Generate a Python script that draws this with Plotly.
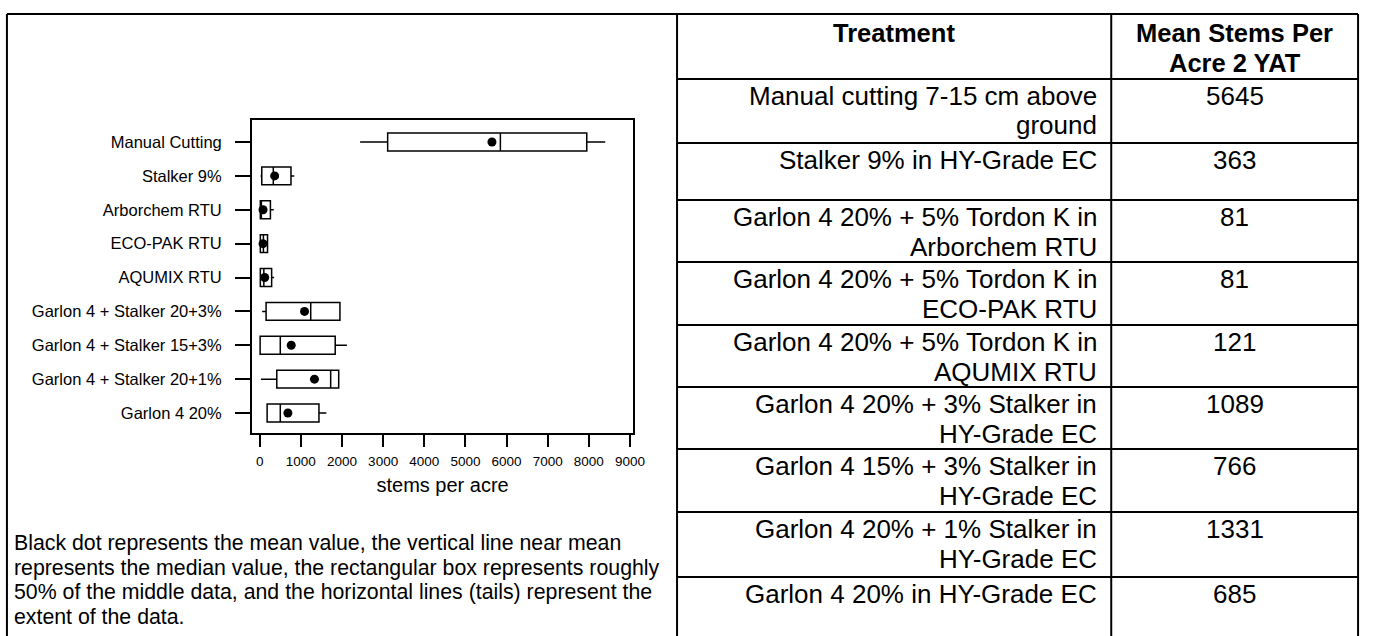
import plotly.graph_objects as go

# ---------------- data ----------------
categories = ["Manual Cutting", "Stalker 9%", "Arborchem RTU", "ECO-PAK RTU", "AQUMIX RTU",
              "Garlon 4 + Stalker 20+3%", "Garlon 4 + Stalker 15+3%",
              "Garlon 4 + Stalker 20+1%", "Garlon 4 20%"]
mins    = [2440,  20,   0,   0,   0,   60,    0,   30,  180]
q1s     = [3110,  50,  15,  15,  15,  155,   10,  415,  180]
medians = [5850, 330,  40,  90, 100, 1240,  500, 1725,  500]
q3s     = [7950, 760, 260, 190, 290, 1950, 1835, 1920, 1440]
maxs    = [8400, 840, 340, 200, 350, 1950, 2120, 1920, 1620]
means   = [5645, 363,  81,  81, 121, 1089,  766, 1331,  685]

x_ticks = [0, 1000, 2000, 3000, 4000, 5000, 6000, 7000, 8000, 9000]
x_title = "stems per acre"

table_header = ["Treatment", "Mean Stems Per<br>Acre 2 YAT"]
treatments = [
    ["Manual cutting 7-15 cm above", "ground"],
    ["Stalker 9% in HY-Grade EC"],
    ["Garlon 4 20% + 5% Tordon K in", "Arborchem RTU"],
    ["Garlon 4 20% + 5% Tordon K in", "ECO-PAK RTU"],
    ["Garlon 4 20% + 5% Tordon K in", "AQUMIX RTU"],
    ["Garlon 4 20% + 3% Stalker in", "HY-Grade EC"],
    ["Garlon 4 15% + 3% Stalker in", "HY-Grade EC"],
    ["Garlon 4 20% + 1% Stalker in", "HY-Grade EC"],
    ["Garlon 4 20% in HY-Grade EC"],
]
table_means = ["5645", "363", "81", "81", "121", "1089", "766", "1331", "685"]

note_lines = [
    "Black dot represents the mean value, the vertical line near mean",
    "represents the median value, the rectangular box represents roughly",
    "50% of the middle data, and the horizontal lines (tails) represent the",
    "extent of the data.",
]

# ---------------- layout helpers ----------------
W, H = 1377, 636
FONT = "Liberation Sans, Arial, sans-serif"


def px(x):
    return x / W


def py(y):
    return 1 - y / H


fig = go.Figure()

fig.add_trace(go.Box(
    y=categories, q1=q1s, median=medians, q3=q3s,
    lowerfence=mins, upperfence=maxs,
    orientation="h", boxpoints=False, whiskerwidth=0, width=0.53,
    fillcolor="white", line=dict(color="black", width=1.5),
    hoverinfo="skip", showlegend=False,
))
fig.add_trace(go.Scatter(
    x=means, y=categories, mode="markers",
    marker=dict(color="black", size=9),
    hoverinfo="skip", showlegend=False,
))

# plot area in pixels
pl, pr, pt, pb = 254, 639, 120, 433
x0_px, k = 262, 41.5 / 1000.0
xr = [(pl - x0_px) / k, (pr - x0_px) / k]

fig.update_layout(
    width=W, height=H, margin=dict(l=0, r=0, t=0, b=0),
    paper_bgcolor="white", plot_bgcolor="white",
    font=dict(family=FONT, color="black"),
    xaxis=dict(domain=[px(pl), px(pr)], range=xr, tickvals=x_ticks,
               ticks="outside", ticklen=12, tickwidth=1.5, tickcolor="black",
               showline=True, linecolor="black", linewidth=1.5, mirror=True,
               showgrid=False, zeroline=False, tickfont=dict(size=13.5),
               ticklabelstandoff=3,
               title=dict(text=x_title, font=dict(size=20), standoff=10)),
    yaxis=dict(domain=[py(pb), py(pt)], type="category",
               categoryorder="array", categoryarray=categories,
               range=[8.59, -0.65],
               ticks="outside", ticklen=15, tickwidth=1.5, tickcolor="black",
               showline=True, linecolor="black", linewidth=1.5, mirror=True,
               showgrid=False, zeroline=False, tickfont=dict(size=16.5),
               ticklabelstandoff=10),
)

shapes = []
LW = 2


def hline(y, x0, x1, w=LW):
    shapes.append(dict(type="line", xref="paper", yref="paper",
                       x0=px(x0), x1=px(x1), y0=py(y), y1=py(y),
                       line=dict(color="black", width=w)))


def vline(x, y0, y1, w=LW):
    shapes.append(dict(type="line", xref="paper", yref="paper",
                       x0=px(x), x1=px(x), y0=py(y0), y1=py(y1),
                       line=dict(color="black", width=w)))


# outer frame + dividers
top, left, mid, colsep, right = 14, 7, 683, 1121, 1370
hline(top, left, right)
vline(left, top, H + 2)
vline(mid, top, H + 2)
vline(colsep, top, H + 2)
vline(right, top, H + 2)

row_tops = [79, 143, 200, 262, 325, 387, 449, 512, 577]
for y in row_tops:
    hline(y, mid, right)

annotations = []
# header
annotations.append(dict(text="<b>%s</b>" % table_header[0], x=px((mid + colsep) / 2), y=py(33),
                        xref="paper", yref="paper", xanchor="center", yanchor="middle",
                        showarrow=False, font=dict(size=25.5)))
for i, line in enumerate(table_header[1].split("<br>")):
    annotations.append(dict(text="<b>%s</b>" % line, x=px((colsep + right) / 2), y=py(33 + 30 * i),
                            xref="paper", yref="paper", xanchor="center", yanchor="middle",
                            showarrow=False, font=dict(size=25.5)))
# body
for r, (lines, val) in enumerate(zip(treatments, table_means)):
    t = row_tops[r]
    for i, line in enumerate(lines):
        annotations.append(dict(text=line, x=px(1109), y=py(t + 17 + 29.5 * i),
                                xref="paper", yref="paper", xanchor="right", yanchor="middle",
                                showarrow=False, font=dict(size=26)))
    annotations.append(dict(text=val, x=px((colsep + right) / 2), y=py(t + 17),
                            xref="paper", yref="paper", xanchor="center", yanchor="middle",
                            showarrow=False, font=dict(size=26)))
# note
for i, line in enumerate(note_lines):
    annotations.append(dict(text=line, x=px(12), y=py(543 + 24.7 * i),
                            xref="paper", yref="paper", xanchor="left", yanchor="middle",
                            showarrow=False, font=dict(size=21.3)))

fig.update_layout(shapes=shapes, annotations=annotations)

fig.write_html("out.html", config={"displayModeBar": False},
               post_script="document.body.style.margin='0';")
